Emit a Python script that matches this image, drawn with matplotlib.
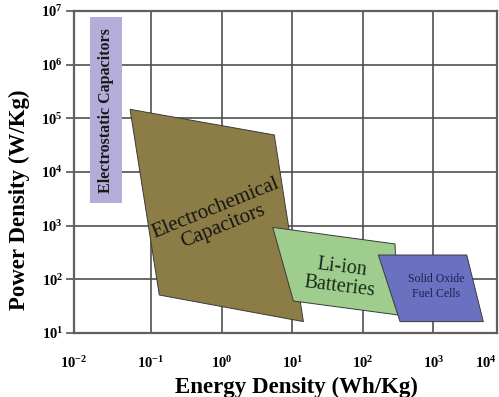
import numpy as np
import matplotlib
matplotlib.use('Agg')
import matplotlib.pyplot as plt
from matplotlib.patches import Polygon

plt.rcParams['font.family'] = 'Liberation Serif'
plt.rcParams['mathtext.fontset'] = 'custom'
plt.rcParams['mathtext.rm'] = 'Liberation Serif'
plt.rcParams['mathtext.bf'] = 'Liberation Serif:bold'

# region outlines: energy density (Wh/Kg), power density (W/Kg)
electrostatic_energy = [0.0137, 0.0389, 0.0389, 0.0137]
electrostatic_power = [2630, 2630, 7.76e6, 7.76e6]

echem_energy = [0.0505, 5.57, 14.4, 0.131]
echem_power = [1.47e5, 4.9e4, 16.3, 51]

liion_energy = [5.3, 286, 315, 10.4]
liion_power = [930, 456, 21.7, 39.5]

sofc_energy = [166, 2965, 5090, 337]
sofc_power = [284, 284, 16.3, 16.3]

# axis extents (image is cropped slightly inside the decades)
x_min, x_max = 10 ** -2.091, 10 ** 3.901
y_min, y_max = 1e1, 1e7
x_ticks = [x_min, 1e-1, 1e0, 1e1, 1e2, 1e3, x_max]
x_tick_labels = [r'$\mathbf{10^{-2}}$', r'$\mathbf{10^{-1}}$', r'$\mathbf{10^{0}}$',
                 r'$\mathbf{10^{1}}$', r'$\mathbf{10^{2}}$', r'$\mathbf{10^{3}}$',
                 r'$\mathbf{10^{4}}$']
y_ticks = [1e1, 1e2, 1e3, 1e4, 1e5, 1e6, 1e7]
y_tick_labels = [r'$\mathbf{10^{%d}}$' % i for i in range(1, 8)]

fig = plt.figure(figsize=(4.99, 3.97), dpi=100)
ax = fig.add_axes([0.1483, 0.1612, 0.8477, 0.8111])
ax.set_xscale('log')
ax.set_yscale('log')
ax.set_xlim(x_min, x_max)
ax.set_ylim(y_min, y_max)

ax.set_xticks(x_ticks)
ax.set_xticklabels(x_tick_labels, fontsize=10.5)
ax.get_xticklabels()[-1].set_ha('right')
ax.set_yticks(y_ticks)
ax.set_yticklabels(y_tick_labels, fontsize=10.5)
ax.minorticks_off()
ax.tick_params(axis='x', length=0, pad=16)
ax.tick_params(axis='y', length=6, width=1.2, color='#555555', pad=2)
ax.grid(True, color='#505050', lw=1.2)
ax.set_axisbelow(True)
for s in ax.spines.values():
    s.set_color('#606060')
    s.set_linewidth(1.6)

def region(xs, ys, fc, z):
    ax.add_patch(Polygon(np.column_stack([xs, ys]), closed=True, facecolor=fc,
                         edgecolor='#3a3a3a', lw=0.7, zorder=z))

ax.add_patch(Polygon(np.column_stack([electrostatic_energy, electrostatic_power]),
                     closed=True, facecolor='#b6acd9', edgecolor='none', zorder=2))
region(echem_energy, echem_power, '#8c7c46', 3)
region(liion_energy, liion_power, '#9fcd8e', 4)
region(sofc_energy, sofc_power, '#6a71c1', 5)

ax.text(np.sqrt(0.0137 * 0.0389), 10 ** 5.15, 'Electrostatic Capacitors', rotation=90,
        ha='center', va='center', fontsize=11.5, fontweight='bold', color='#1a1a1a', zorder=6)
ax.text(0.92, 10 ** 3.15, 'Electrochemical\nCapacitors', rotation=22, ha='center',
        va='center', fontsize=15, color='#151515', linespacing=1.0, zorder=6)
ax.text(48, 10 ** 2.04, 'Li-ion\nBatteries', rotation=-7, ha='center', va='center',
        fontsize=14.5, color='#1a2a1a', linespacing=1.05, zorder=6)
ax.text(1100, 10 ** 1.86, 'Solid Oxide\nFuel Cells', ha='center', va='center',
        fontsize=8.5, color='#202050', linespacing=1.3, zorder=6)

ax.set_xlabel('Energy Density (Wh/Kg)', fontsize=16.5, fontweight='bold', va='center')
ax.xaxis.set_label_coords(0.526, -0.17)
ax.set_ylabel('Power Density (W/Kg)', fontsize=16.5, fontweight='bold', va='center')
ax.yaxis.set_label_coords(-0.128, 0.413)

fig.savefig('out.png', dpi=100)
